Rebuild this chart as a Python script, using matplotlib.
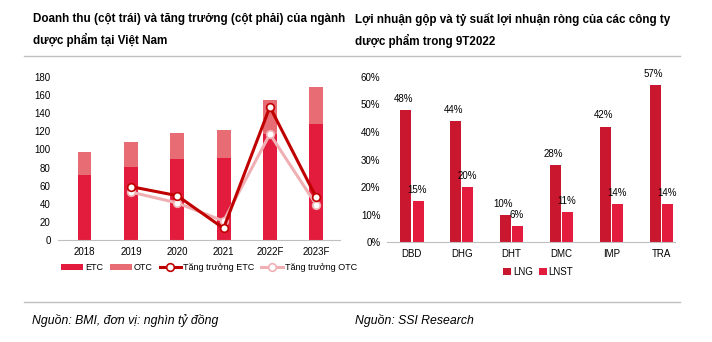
import matplotlib
matplotlib.use("Agg")
import matplotlib.pyplot as plt
import numpy as np

plt.rcParams['font.family'] = ['Liberation Sans', 'DejaVu Sans']

years = ["2018", "2019", "2020", "2021", "2022F", "2023F"]
etc = [72, 81, 89, 91, 117, 128]
otc = [25, 27, 29, 30, 38, 41]
growth_etc = [None, 59, 49, 13, 147, 47]
growth_otc = [None, 53, 41, 21, 117, 39]

companies = ["DBD", "DHG", "DHT", "DMC", "IMP", "TRA"]
lng = [48, 44, 10, 28, 42, 57]
lnst = [15, 20, 6, 11, 14, 14]

c_etc = "#E31B3C"
c_otc = "#E86C74"
c_getc = "#C00000"
c_gotc = "#F0B0B3"
c_lng = "#C8172F"
c_lnst = "#E31B3C"

fig = plt.figure(figsize=(7.12, 3.42), dpi=100)

# titles
fig.text(0.046, 0.962, "Doanh thu (cột trái) và tăng trưởng (cột phải) của ngành\ndược phẩm tại Việt Nam",
         fontsize=8.4, fontweight="bold", va="top", ha="left", linespacing=1.75)
fig.text(0.499, 0.962, "Lợi nhuận gộp và tỷ suất lợi nhuận ròng của các công ty\ndược phẩm trong 9T2022",
         fontsize=8.4, fontweight="bold", va="top", ha="left", linespacing=1.75)
fig.add_artist(plt.Line2D([0.034, 0.955], [0.837, 0.837], color="#BFBFBF", lw=1))
fig.add_artist(plt.Line2D([0.034, 0.955], [0.117, 0.117], color="#BFBFBF", lw=1))
fig.text(0.045, 0.064, "Nguồn: BMI, đơn vị: nghìn tỷ đồng", fontsize=8.8, style="italic", va="center")
fig.text(0.499, 0.064, "Nguồn: SSI Research", fontsize=8.8, style="italic", va="center")

# left chart
ax1 = fig.add_axes([0.081, 0.298, 0.397, 0.477])
x = np.arange(len(years))
w = 0.30
ax1.bar(x, etc, w, color=c_etc, label="ETC", zorder=2)
ax1.bar(x, otc, w, bottom=etc, color=c_otc, label="OTC", zorder=2)
xg = x[1:]
ax1.plot(xg, growth_etc[1:], color=c_getc, lw=2.2, marker="o", ms=5.5,
         mfc="white", mec=c_getc, mew=1.2, label="Tăng trưởng ETC", zorder=4)
ax1.plot(xg, growth_otc[1:], color=c_gotc, lw=2.2, marker="o", ms=5.5,
         mfc="white", mec=c_gotc, mew=1.2, label="Tăng trưởng OTC", zorder=3)
ax1.set_ylim(0, 180)
ax1.set_yticks(range(0, 181, 20))
ax1.set_xlim(-0.58, 5.52)
ax1.set_xticks(x)
ax1.set_xticklabels(years)
for s in ["top", "right", "left"]:
    ax1.spines[s].set_visible(False)
ax1.spines["bottom"].set_color("#BFBFBF")
ax1.tick_params(axis="both", length=0, labelsize=7, pad=5)
h, l = ax1.get_legend_handles_labels()
order = [2, 3, 0, 1]
ax1.legend([h[i] for i in order], [l[i] for i in order], loc="upper left",
           bbox_to_anchor=(0.0, -0.12), ncol=4, frameon=False, fontsize=6.5,
           handlelength=2.4, handletextpad=0.2, columnspacing=0.8, borderaxespad=0)

# right chart
ax2 = fig.add_axes([0.544, 0.292, 0.404, 0.483])
xc = np.arange(len(companies))
bw = 0.22
b1 = ax2.bar(xc - 0.125, lng, bw, color=c_lng, label="LNG", zorder=2)
b2 = ax2.bar(xc + 0.125, lnst, bw, color=c_lnst, label="LNST", zorder=2)
for rect, v in zip(b1, lng):
    ax2.text(rect.get_x() + rect.get_width() / 2 - 0.04, v + 2.2, f"{v}%", ha="center",
             va="bottom", fontsize=7)
for rect, v in zip(b2, lnst):
    ax2.text(rect.get_x() + rect.get_width() / 2 - 0.02, v + 2.2, f"{v}%", ha="center",
             va="bottom", fontsize=7)
ax2.set_ylim(0, 60)
ax2.set_yticks(range(0, 61, 10))
ax2.set_yticklabels([f"{t}%" for t in range(0, 61, 10)])
ax2.set_xlim(-0.49, 5.27)
ax2.set_xticks(xc)
ax2.set_xticklabels(companies)
for s in ["top", "right", "left"]:
    ax2.spines[s].set_visible(False)
ax2.spines["bottom"].set_color("#BFBFBF")
ax2.tick_params(axis="both", length=0, labelsize=7, pad=5)
ax2.legend(loc="upper left", bbox_to_anchor=(0.39, -0.125), ncol=2, frameon=False,
           fontsize=7, handlelength=0.8, handleheight=0.8, handletextpad=0.2,
           columnspacing=0.6, borderaxespad=0)

fig.savefig("out.png", dpi=100)
